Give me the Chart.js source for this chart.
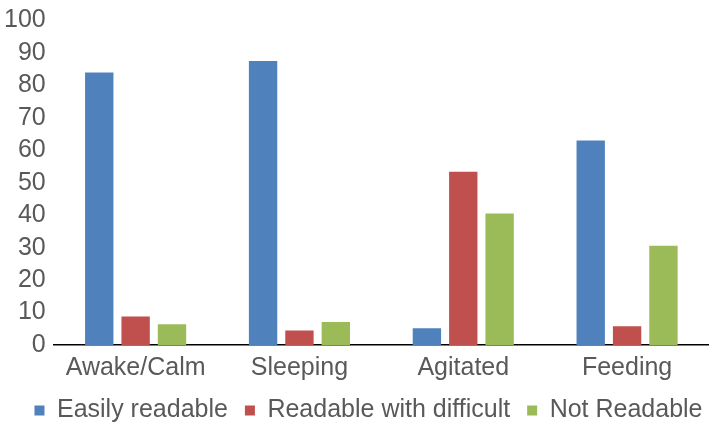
<!DOCTYPE html>
<html>
<head>
<meta charset="utf-8">
<script src="https://cdn.jsdelivr.net/npm/chart.js@4"></script>
<style>
    html, body { margin: 0; padding: 0; background: #fff; }
    #wrap { width: 709px; height: 424px; }
</style>
</head>
<body>
<div id="wrap"><canvas id="readChart"></canvas></div>
<script>
// DATA
const categories = ["Awake/Calm", "Sleeping", "Agitated", "Feeding"];
const seriesNames = ["Easily readable", "Readable with difficult", "Not Readable"];
const easilyReadable = [84, 87.5, 5.2, 63];
const readableDifficult = [8.8, 4.5, 53.4, 5.8];
const notReadable = [6.4, 7.1, 40.5, 30.6];
const yTicks = [0, 10, 20, 30, 40, 50, 60, 70, 80, 90, 100];

const colors = ["#4f81bd", "#c0504d", "#9bbb59"];
const textColor = "#595959";
const font = "'Liberation Sans', Arial, sans-serif";

// squeeze the legend box so it sits lower, and nudge it right like the original
const legendTweak = {
    id: "legendTweak",
    beforeInit(chart) {
        const fit = chart.legend.fit;
        chart.legend.fit = function () {
            fit.call(this);
            this.height -= 9;
        };
    },
    afterLayout(chart) {
        chart.legend.left += 16;
        chart.legend.right += 16;
    }
};

// CREATE CHART
const ctx = document.getElementById("readChart");

const chart = new Chart(ctx, {
    type: "bar",
    data: {
        labels: categories,
        datasets: [easilyReadable, readableDifficult, notReadable].map((values, i) => ({
            label: seriesNames[i],
            data: values,
            backgroundColor: colors[i],
            categoryPercentage: 0.666,
            barPercentage: 0.78
        }))
    },
    plugins: [legendTweak],
    options: {
        responsive: true,
        maintainAspectRatio: false,
        animation: false,
        layout: { padding: { left: -4, right: 0, top: 2, bottom: 0 } },
        plugins: {
            tooltip: { enabled: false },
            legend: {
                position: "bottom",
                labels: {
                    color: textColor,
                    font: { family: font, size: 25 },
                    boxWidth: 10,
                    boxHeight: 10,
                    padding: 17
                }
            }
        },
        scales: {
            x: {
                grid: { display: false, drawTicks: false },
                border: { display: true, color: "#000", width: 1.5 },
                ticks: {
                    color: textColor,
                    font: { family: font, size: 25 },
                    padding: 8
                },
                afterFit: scale => { scale.height -= 10; }
            },
            y: {
                min: 0,
                max: 100,
                afterBuildTicks: scale => {
                    scale.ticks = yTicks.map(v => ({ value: v }));
                },
                grid: { display: false, drawTicks: false },
                border: { display: false },
                ticks: {
                    color: textColor,
                    font: { family: font, size: 25, lineHeight: 1 },
                    padding: 8,
                    autoSkip: false
                }
            }
        }
    }
});
</script>
</body>
</html>
